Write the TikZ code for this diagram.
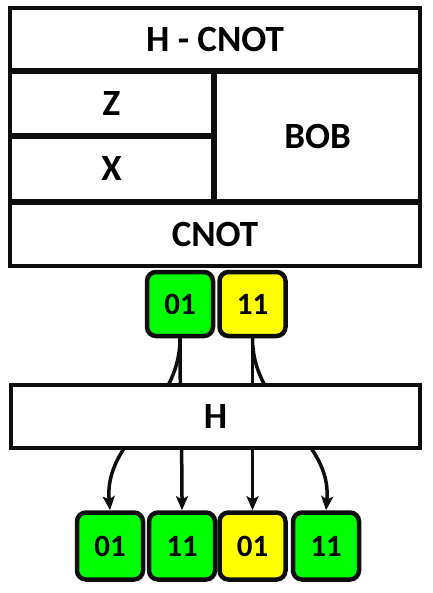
\documentclass[tikz,border=0pt]{standalone}
\usepackage{fontspec}
\setmainfont{Carlito}
\usepackage{xcolor}
\usetikzlibrary{arrows.meta, positioning}
\definecolor{inkblack}{HTML}{0D0D0D}
\definecolor{bitgreen}{HTML}{00FF00}
\definecolor{bityellow}{HTML}{FFFF00}
\tikzset{
  cell/.style={
    rectangle,
    draw=inkblack,
    line width=4pt,
    fill=white,
    inner sep=0pt,
    text centered,
    font=\fontsize{37}{40}\selectfont\bfseries
  },
  bit/.style={
    rectangle,
    rounded corners=9pt,
    draw=inkblack,
    line width=4.5pt,
    inner sep=0pt,
    minimum width=66pt,
    text centered,
    font=\fontsize{31}{34}\selectfont\bfseries
  },
  greenbit/.style={
    bit,
    fill=bitgreen
  },
  yellowbit/.style={
    bit,
    fill=bityellow
  },
  arrow/.style={
    line width=3.5pt,
    draw=inkblack,
    -{Stealth[length=14pt, width=12pt, inset=3pt]}
  }
}
\begin{document}
\begin{tikzpicture}[x=1pt, y=-1pt]
  \useasboundingbox (0,0) rectangle (432,593);

  % Circuit blocks
  \node (hcnot) [cell, minimum width=410pt, minimum height=62pt] at (215,39) {H - CNOT};
  \node (zgate) [cell, minimum width=203pt, minimum height=63pt] at (111.5,103.5) {Z};
  \node (xgate) [cell, minimum width=203pt, minimum height=64pt] at (111.5,169) {X};
  \node (bob) [cell, minimum width=205pt, minimum height=129pt] at (317.5,136.5) {BOB};
  \node (cnot) [cell, minimum width=410pt, minimum height=63pt] at (215,234.5) {CNOT};

  % Bits after CNOT
  \node (inA) [greenbit, minimum height=64pt] at (180,304) {01};
  \node (inB) [yellowbit, minimum height=64pt] at (252.5,304) {11};

  % Bits after H
  \node (outA) [greenbit, minimum height=67pt] at (110,546) {01};
  \node (outB) [greenbit, minimum height=67pt] at (182,546) {11};
  \node (outC) [yellowbit, minimum height=67pt] at (252.5,546) {01};
  \node (outD) [greenbit, minimum height=67pt] at (326,546) {11};

  % Arrows (pass behind the H block)
  \draw[arrow] (inA.south) to[out=-90, in=95] (outA.north);
  \draw[arrow] (inA.south) to[out=-90, in=90] (outB.north);
  \draw[arrow] (inB.south) -- (outC.north);
  \draw[arrow] (inB.south) to[out=-90, in=85] (outD.north);

  % H block on top
  \node (hgate) [cell, minimum width=409pt, minimum height=63pt] at (215.5,416.5) {H};

\end{tikzpicture}
\end{document}
